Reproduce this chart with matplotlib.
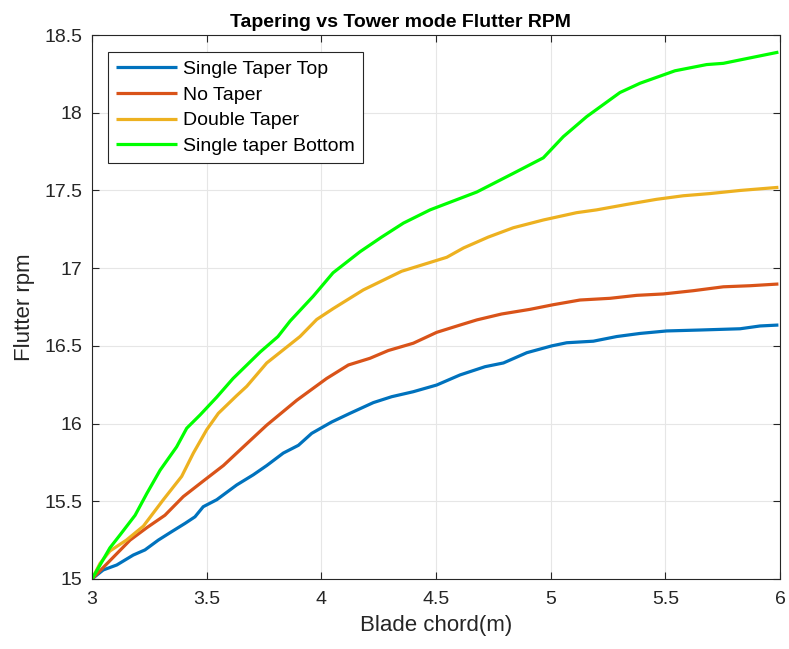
import matplotlib
matplotlib.use("Agg")
import matplotlib.pyplot as plt

plt.rcParams['font.family'] = ['Liberation Sans', 'DejaVu Sans']

# Blade chord (m) vs flutter rpm for each tapering configuration
x_top = [3.0, 3.049, 3.108, 3.18, 3.231, 3.289, 3.347, 3.406, 3.449, 3.485, 3.544,
         3.631, 3.703, 3.762, 3.834, 3.90, 3.958, 4.045, 4.125, 4.227, 4.307,
         4.401, 4.503, 4.605, 4.714, 4.794, 4.896, 5.005, 5.07, 5.186, 5.288,
         5.39, 5.506, 5.652, 5.826, 5.913, 5.993]
y_top = [15.0, 15.058, 15.09, 15.154, 15.187, 15.25, 15.304, 15.358, 15.40, 15.465, 15.51,
         15.605, 15.67, 15.73, 15.81, 15.86, 15.937, 16.01, 16.066, 16.135, 16.173,
         16.205, 16.248, 16.313, 16.366, 16.39, 16.456, 16.50, 16.52, 16.53, 16.56,
         16.58, 16.596, 16.602, 16.61, 16.628, 16.634]

x_none = [3.0, 3.093, 3.166, 3.239, 3.318, 3.398, 3.485, 3.573, 3.66, 3.762, 3.893,
          4.023, 4.118, 4.212, 4.292, 4.401, 4.503, 4.605, 4.678, 4.786, 4.91,
          5.012, 5.128, 5.259, 5.375, 5.491, 5.622, 5.753, 5.87, 5.993]
y_none = [15.0, 15.14, 15.25, 15.33, 15.41, 15.53, 15.63, 15.73, 15.85, 15.99, 16.15,
          16.29, 16.377, 16.42, 16.47, 16.517, 16.587, 16.634, 16.667, 16.705, 16.735,
          16.765, 16.795, 16.806, 16.825, 16.834, 16.855, 16.88, 16.887, 16.898]

x_double = [3.0, 3.035, 3.078, 3.15, 3.224, 3.311, 3.391, 3.442, 3.5, 3.551, 3.631,
            3.675, 3.762, 3.907, 3.98, 4.052, 4.183, 4.35, 4.547, 4.62, 4.728,
            4.837, 4.968, 5.113, 5.2, 5.331, 5.462, 5.579, 5.695, 5.826, 5.993]
y_double = [15.0, 15.10, 15.18, 15.25, 15.34, 15.51, 15.66, 15.81, 15.96, 16.066, 16.18,
            16.24, 16.39, 16.56, 16.67, 16.74, 16.86, 16.98, 17.07, 17.13, 17.20,
            17.26, 17.31, 17.357, 17.375, 17.41, 17.443, 17.466, 17.48, 17.50, 17.52]

x_bottom = [3.0, 3.078, 3.122, 3.188, 3.239, 3.297, 3.369, 3.413, 3.471, 3.544, 3.615,
            3.733, 3.811, 3.864, 3.965, 4.051, 4.169, 4.263, 4.358, 4.474, 4.678,
            4.837, 4.968, 5.055, 5.157, 5.302, 5.39, 5.542, 5.68, 5.753, 5.826, 5.993]
y_bottom = [15.0, 15.20, 15.283, 15.41, 15.55, 15.70, 15.85, 15.97, 16.055, 16.17, 16.29,
            16.46, 16.56, 16.66, 16.82, 16.97, 17.106, 17.20, 17.29, 17.375, 17.49,
            17.61, 17.71, 17.846, 17.975, 18.13, 18.19, 18.27, 18.31, 18.318, 18.34, 18.39]

labels = ['Single Taper Top', 'No Taper', 'Double Taper', 'Single taper Bottom']
colors = ['#0072BD', '#D95319', '#EDB120', '#00FF00']

x_ticks = [3, 3.5, 4, 4.5, 5, 5.5, 6]
x_ticklabels = ['3', '3.5', '4', '4.5', '5', '5.5', '6']
y_ticks = [15, 15.5, 16, 16.5, 17, 17.5, 18, 18.5]
y_ticklabels = ['15', '15.5', '16', '16.5', '17', '17.5', '18', '18.5']

fig = plt.figure(figsize=(7.89, 6.49), dpi=100)
ax = fig.add_axes([0.1166, 0.1079, 0.8720, 0.8381])

series = [(x_top, y_top), (x_none, y_none), (x_double, y_double), (x_bottom, y_bottom)]
for (xs, ys), lab, col in zip(series, labels, colors):
    ax.plot(xs, ys, color=col, lw=2.3, label=lab, solid_capstyle='butt')

ax.set_xlim(3, 6)
ax.set_ylim(15, 18.5)
ax.set_xticks(x_ticks)
ax.set_xticklabels(x_ticklabels)
ax.set_yticks(y_ticks)
ax.set_yticklabels(y_ticklabels)
ax.tick_params(direction='in', length=5, width=0.8, colors='#262626',
               labelsize=14, top=True, right=True)
ax.tick_params(axis='x', pad=9)
ax.tick_params(axis='y', pad=7)
ax.grid(True, color='#e6e6e6', lw=0.8)
ax.set_axisbelow(True)
for sp in ax.spines.values():
    sp.set_color('#262626')
    sp.set_linewidth(0.8)

ax.set_xlabel('Blade chord(m)', fontsize=16, color='#262626', labelpad=5)
ax.set_ylabel('Flutter rpm', fontsize=16, color='#262626', labelpad=7)
ax.set_title('Tapering vs Tower mode Flutter RPM', fontsize=14, fontweight='bold',
             pad=6, x=0.449)

leg = ax.legend(loc='upper left', bbox_to_anchor=(0.0235, 0.968), borderaxespad=0,
                fontsize=14, frameon=True, fancybox=False, edgecolor='#262626',
                framealpha=1, handlelength=3.15, handletextpad=0.3, borderpad=0.4,
                labelspacing=0.42)
leg.get_frame().set_linewidth(0.8)

fig.savefig('out.png', dpi=100)
